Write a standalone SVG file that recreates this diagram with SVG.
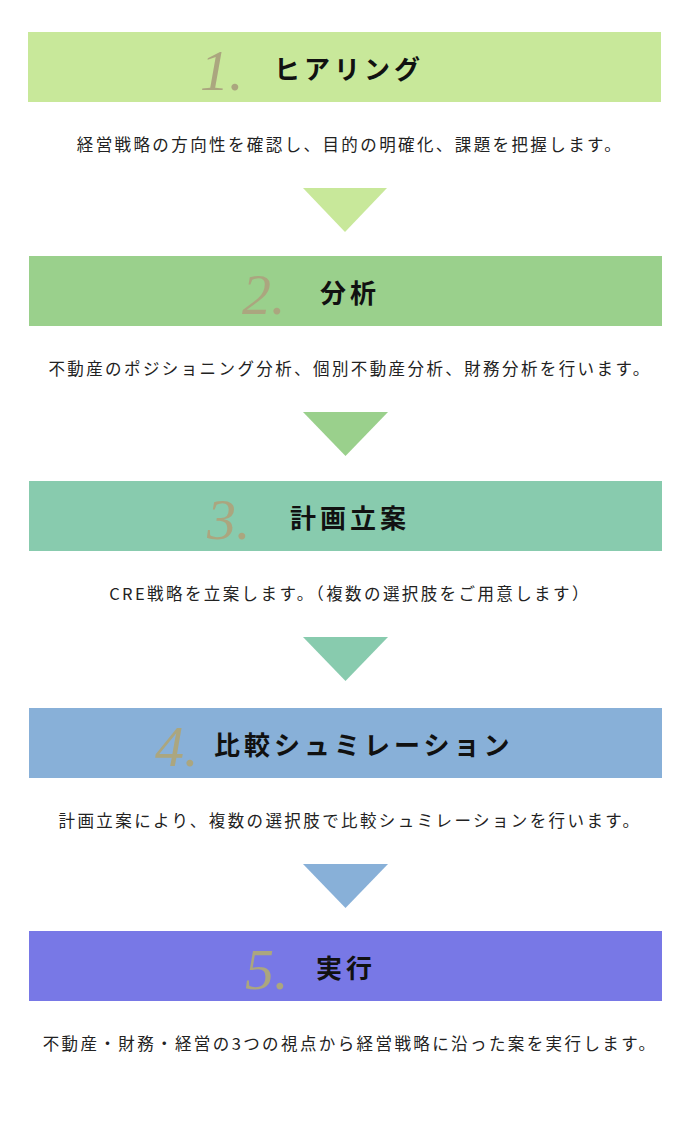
<svg xmlns="http://www.w3.org/2000/svg" width="700" height="1128" viewBox="0 0 700 1128">
<style>
.num{font-family:"Liberation Serif",serif;font-style:italic;font-size:58px;fill:#aba67f}
.ttl{font-family:"Noto Sans CJK JP",sans-serif;font-weight:bold;font-size:26px;letter-spacing:4px;fill:#111}
.body{font-family:"Noto Sans CJK JP",sans-serif;font-size:16.5px;letter-spacing:2.4px;fill:#222;text-anchor:middle}
</style>
<rect width="700" height="1128" fill="#fff"/>
<g id="node1"><rect x="28" y="32" width="633" height="70" fill="#c8e89a"/><text class="num" x="200" y="90">1.</text><text class="ttl" x="274" y="79">ヒアリング</text><text class="body" x="350" y="151">経営戦略の方向性を確認し、目的の明確化、課題を把握します。</text></g>
<g id="node2"><rect x="29" y="256" width="633" height="70" fill="#9ad08c"/><text class="num" x="242" y="314">2.</text><text class="ttl" x="320" y="303">分析</text><text class="body" x="350" y="375">不動産のポジショニング分析、個別不動産分析、財務分析を行います。</text></g>
<g id="node3"><rect x="29" y="481" width="633" height="70" fill="#88cbae"/><text class="num" x="207" y="539">3.</text><text class="ttl" x="290" y="528">計画立案</text><text class="body" x="350" y="600">CRE戦略を立案します。（複数の選択肢をご用意します）</text></g>
<g id="node4"><rect x="29" y="708" width="633" height="70" fill="#88b0d8"/><text class="num" x="155" y="766">4.</text><text class="ttl" x="214" y="755">比較シュミレーション</text><text class="body" x="350" y="827">計画立案により、複数の選択肢で比較シュミレーションを行います。</text></g>
<g id="node5"><rect x="29" y="931" width="633" height="70" fill="#7878e6"/><text class="num" x="245" y="989">5.</text><text class="ttl" x="316" y="978">実行</text><text class="body" x="350" y="1050">不動産・財務・経営の3つの視点から経営戦略に沿った案を実行します。</text></g>
<g id="connectors">
<polygon points="303,188 387,188 345,232" fill="#c8e89a"/>
<polygon points="303,412 388,412 345.5,456" fill="#9ad08c"/>
<polygon points="303,637 388,637 345.5,681" fill="#88cbae"/>
<polygon points="303,864 388,864 345.5,908" fill="#88b0d8"/>
</g>
</svg>
